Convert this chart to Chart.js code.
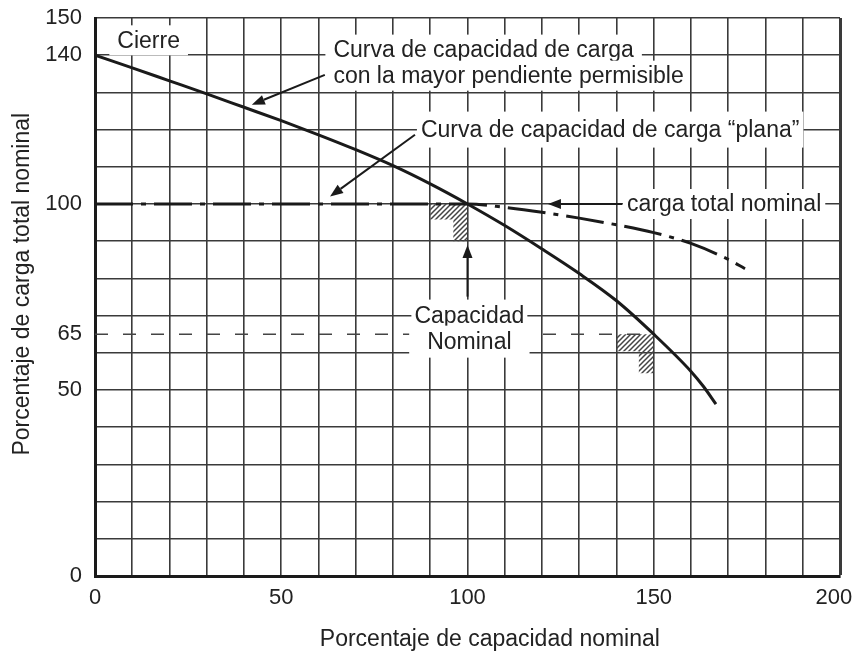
<!DOCTYPE html>
<html>
<head>
<meta charset="utf-8">
<title>Porcentaje de carga total nominal</title>
<script src="https://cdn.jsdelivr.net/npm/chart.js@4.4.0/dist/chart.umd.min.js"></script>
<style>
  html, body { margin: 0; padding: 0; background: #fff; }
  #wrap { width: 856px; height: 651px; position: relative; }
</style>
</head>
<body>
<div id="wrap"><canvas id="chart"></canvas></div>
<script>
// values (x: % of rated capacity, y: % of rated total load)
const xTickLabels = [0, 50, 100, 150, 200];
const yTickLabels = [0, 50, 65, 100, 140, 150];

// solid curve: steepest permissible slope
const steepX = [0, 10, 20, 30, 40, 50, 60, 70, 80, 90, 100, 110, 120, 130, 140, 150, 160, 163.3, 166.7];
const steepY = [140, 136.6, 133.1, 129.6, 126, 122.4, 118.6, 114.6, 110.3, 105.4, 100, 94.2, 87.9, 81.3, 74, 65, 55, 51, 46.2];

// dash-dot curve: "flat" capacity curve
const flatX = [0, 50, 100, 110, 120, 130, 140, 150, 160, 170, 174.5];
const flatY = [100, 100, 100, 99.1, 97.8, 96.2, 94.4, 92.3, 89.4, 85.1, 82.6];

// dashed reference at 65 %
const ratedX = [0, 150];
const ratedY = [65, 65];

// hatched corners
const hatchAX = [90, 100, 100, 96.2, 96.2, 90];
const hatchAY = [100, 100, 90, 90, 95.8, 95.8];
const hatchBX = [140, 150, 150, 146, 146, 140];
const hatchBY = [65, 65, 54.5, 54.5, 60.4, 60.4];

const FONT = '"Liberation Sans", Arial, Helvetica, sans-serif';
const INK = '#1a1a1a';

// text labels and arrows, anchored in data units
const labels = [
  { text: 'Cierre', x: 6, y: 144, align: 'left', padX: 8, h: 30 },
  { text: 'Curva de capacidad de carga', x: 64, y: 141.5, align: 'left', padX: 8, h: 30 },
  { text: 'con la mayor pendiente permisible', x: 64, y: 134.5, align: 'left', padX: 6, h: 30 },
  { text: 'Curva de capacidad de carga \u201cplana\u201d', x: 87.5, y: 120, align: 'left', padX: 4, h: 36 },
  { text: 'carga total nominal', x: 142.8, y: 100, align: 'left', padX: 4, h: 30 },
  { text: 'Capacidad', x: 100.5, y: 70, align: 'center', padX: 3, h: 32 },
  { text: 'Nominal', x: 100.5, y: 63, align: 'center', padX: 18, h: 32 },
];
const arrows = [
  { from: [61.7, 134.7], to: [42.1, 126.7] },
  { from: [85.9, 118.6], to: [63.1, 102] },
  { from: [141.5, 100], to: [121.6, 100] },
  { from: [100, 75.1], to: [100, 89] },
];

function pts(xs, ys) {
  return xs.map((x, i) => ({ x, y: ys[i] }));
}

function hatchPattern() {
  const c = document.createElement('canvas');
  c.width = 5; c.height = 5;
  const g = c.getContext('2d');
  g.strokeStyle = '#444';
  g.lineWidth = 1.5;
  g.beginPath();
  g.moveTo(-1, 6); g.lineTo(6, -1);
  g.moveTo(-1, 1); g.lineTo(1, -1);
  g.moveTo(4, 6); g.lineTo(6, 4);
  g.stroke();
  return g.createPattern(c, 'repeat');
}

const notes = {
  id: 'notes',
  afterDatasetsDraw(chart) {
    const { ctx, scales: { x, y } } = chart;
    ctx.save();
    ctx.font = '23px ' + FONT;
    ctx.textBaseline = 'middle';
    ctx.textAlign = 'left';
    for (const t of labels) {
      const px = x.getPixelForValue(t.x);
      const py = y.getPixelForValue(t.y);
      const w = ctx.measureText(t.text).width;
      const left = t.align === 'center' ? px - w / 2 : px;
      ctx.fillStyle = '#fff';
      ctx.fillRect(left - t.padX, py - t.h / 2, w + 2 * t.padX, t.h);
      ctx.fillStyle = '#222';
      ctx.fillText(t.text, left, py + 1);
    }
    ctx.strokeStyle = INK;
    ctx.fillStyle = INK;
    ctx.lineWidth = 2;
    for (const a of arrows) {
      const x0 = x.getPixelForValue(a.from[0]), y0 = y.getPixelForValue(a.from[1]);
      const x1 = x.getPixelForValue(a.to[0]), y1 = y.getPixelForValue(a.to[1]);
      const ang = Math.atan2(y1 - y0, x1 - x0);
      const len = 13, half = 5;
      const bx = x1 - len * Math.cos(ang), by = y1 - len * Math.sin(ang);
      ctx.beginPath();
      ctx.moveTo(x0, y0);
      ctx.lineTo(bx, by);
      ctx.stroke();
      ctx.beginPath();
      ctx.moveTo(x1, y1);
      ctx.lineTo(bx + half * Math.sin(ang), by - half * Math.cos(ang));
      ctx.lineTo(bx - half * Math.sin(ang), by + half * Math.cos(ang));
      ctx.closePath();
      ctx.fill();
    }
    ctx.restore();
  }
};

Chart.defaults.font.family = FONT;
Chart.defaults.color = '#222';

const hatch = hatchPattern();
const hatchStyle = {
  showLine: true, fill: 'shape', backgroundColor: hatch,
  borderColor: 'rgba(0,0,0,0)', borderWidth: 0, pointRadius: 0, tension: 0, order: 3,
};

new Chart(document.getElementById('chart'), {
  type: 'scatter',
  data: {
    datasets: [
      { label: 'mayor pendiente', data: pts(steepX, steepY), showLine: true,
        borderColor: INK, borderWidth: 3, pointRadius: 0, cubicInterpolationMode: 'monotone', order: 0 },
      { label: 'plana', data: pts(flatX, flatY), showLine: true,
        borderColor: INK, borderWidth: 3, borderDash: [38, 8, 5, 8], pointRadius: 0,
        cubicInterpolationMode: 'monotone', order: 1 },
      { label: '65', data: pts(ratedX, ratedY), showLine: true,
        borderColor: '#444', borderWidth: 1.5, borderDash: [13, 15], pointRadius: 0, order: 2 },
      { label: 'hatch A', data: pts(hatchAX, hatchAY), ...hatchStyle },
      { label: 'hatch B', data: pts(hatchBX, hatchBY), ...hatchStyle },
    ],
  },
  options: {
    responsive: true,
    maintainAspectRatio: false,
    animation: false,
    layout: { padding: { left: 0, top: 18, right: 16, bottom: 0 } },
    plugins: { legend: { display: false }, tooltip: { enabled: false } },
    scales: {
      x: {
        type: 'linear', min: 0, max: 200,
        afterFit(s) { s.height = 75; s.paddingLeft = 0; s.paddingRight = 0; },
        border: { display: true, color: INK, width: 3 },
        grid: {
          color: '#3a3a3a', drawTicks: false,
          lineWidth: c => (c.tick && c.tick.value === 200 ? 3 : 1.6),
        },
        ticks: {
          stepSize: 10, autoSkip: false, maxRotation: 0, padding: 9,
          font: { size: 22 }, color: '#222',
          // last label sits a little inside the right edge, as in the print
          callback: v => (v === 200 ? '200  ' : xTickLabels.includes(v) ? v : ''),
        },
        title: {
          display: true, text: '       Porcentaje de capacidad nominal',
          font: { size: 23 }, color: '#222', padding: { top: 0, bottom: -2 },
        },
      },
      y: {
        type: 'linear', min: 0, max: 150,
        afterFit(s) { s.width = 95; s.paddingTop = 0; s.paddingBottom = 0; },
        afterBuildTicks(s) {
          const t = [];
          for (let v = 0; v <= 150; v += 10) t.push({ value: v });
          t.push({ value: 65 });
          t.sort((a, b) => a.value - b.value);
          s.ticks = t;
        },
        border: { display: true, color: INK, width: 3 },
        grid: {
          drawTicks: false, lineWidth: 1.6,
          color: c => (c.tick && c.tick.value === 65 ? 'rgba(0,0,0,0)' : '#3a3a3a'),
        },
        ticks: {
          autoSkip: false, padding: 13, font: { size: 22 }, color: '#222',
          callback: v => (yTickLabels.includes(v) ? v : ''),
        },
        title: {
          display: true, text: '    Porcentaje de carga total nominal',
          font: { size: 23 }, color: '#222', padding: { top: 9, bottom: 0 },
        },
      },
    },
  },
  plugins: [notes],
});
</script>
</body>
</html>
